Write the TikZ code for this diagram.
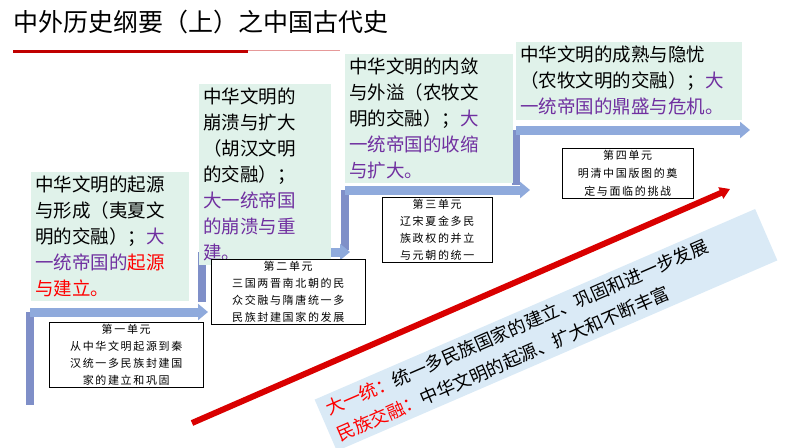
\documentclass[tikz,border=0pt]{standalone}
\usepackage{fontspec}
\setmainfont{Noto Sans CJK SC}
\usetikzlibrary{arrows.meta}
\definecolor{stagegreen}{RGB}{224,242,234}
\definecolor{stepblue}{RGB}{143,170,220}
\definecolor{postblue}{RGB}{127,143,200}
\definecolor{empire}{RGB}{112,48,160}
\definecolor{bandblue}{RGB}{218,234,246}
\definecolor{titlered}{RGB}{192,0,0}
\tikzstyle{stage} = [
        anchor=north west,
        fill=stagegreen,
        align=left,
        inner sep=4pt,
        font=\fontsize{18.5}{26}\selectfont
    ]
\tikzstyle{unit} = [
        anchor=north west,
        draw=black,
        fill=white,
        align=center,
        inner sep=2pt,
        font=\fontsize{11}{17}\selectfont\addfontfeature{LetterSpace=15}
    ]
\tikzstyle{post} = [fill=postblue]
\tikzstyle{stair} = [line width=9pt,stepblue,-{Triangle[length=10pt,width=16pt]}]
\tikzstyle{arrow} = [line width=6pt,red!85!black,-{Triangle[length=10pt,width=12pt]}]

\begin{document}
\begin{tikzpicture}[x=1pt,y=-1pt]
    \useasboundingbox (0,0) rectangle (794,447);
    % title
    \node (title) [anchor=west,font=\fontsize{25}{28}\selectfont] at (10,22)
        {中外历史纲要（上）之中国古代史};
    \draw [titlered,line width=3pt] (13,51) -- (248,51);
    \draw [titlered!40,line width=0.8pt] (248,50) -- (340,50);

    % staircase
    \fill [post] (26,312) rectangle (34,405);
    \fill [post] (198,252) rectangle (206,302);
    \fill [post] (341,190) rectangle (349,250);
    \fill [post] (512,130) rectangle (520,185);
    \draw [stair] (30,312) -- (208,312);
    \draw [stair] (202,252) -- (350,252);
    \draw [stair] (345,190) -- (530,190);
    \draw [stair] (516,130) -- (750,130);

    % stages
    \node (stage1) [stage,text width=150pt] at (31,172)
        {中华文明的起源\\与形成（夷夏文\\明的交融）；\textcolor{empire}{大}\\\textcolor{empire}{一统帝国的}\textcolor{red}{起源}\\\textcolor{red}{与建立。}};
    \node (stage2) [stage,text width=124pt] at (199,84)
        {中华文明的\\崩溃与扩大\\（胡汉文明\\的交融）；\\\textcolor{empire}{大一统帝国}\\\textcolor{empire}{的崩溃与重}\\\textcolor{empire}{建。}};
    \node (stage3) [stage,text width=160pt] at (345,54)
        {中华文明的内敛\\与外溢（农牧文\\明的交融）；\textcolor{empire}{大}\\\textcolor{empire}{一统帝国的收缩}\\\textcolor{empire}{与扩大。}};
    \node (stage4) [stage,text width=218pt] at (516,42)
        {中华文明的成熟与隐忧\\（农牧文明的交融）；\textcolor{empire}{大}\\\textcolor{empire}{一统帝国的鼎盛与危机。}};

    % units
    \node (unit1) [unit,text width=150pt] at (49,322)
        {第一单元\\从中华文明起源到秦\\汉统一多民族封建国\\家的建立和巩固};
    \node (unit2) [unit,text width=150pt] at (211,259)
        {第二单元\\三国两晋南北朝的民\\众交融与隋唐统一多\\民族封建国家的发展};
    \node (unit3) [unit,text width=106pt] at (382,197)
        {第三单元\\辽宋夏金多民\\族政权的并立\\与元朝的统一};
    \node (unit4) [unit,text width=127pt,font=\fontsize{11}{18}\selectfont\addfontfeature{LetterSpace=15}] at (562,148)
        {第四单元\\明清中国版图的奠\\定与面临的挑战};

    % trend
    \coordinate (start) at (192,423);
    \coordinate (end) at (730,189);
    \node (band) [fill=bandblue,rotate=23.4,minimum width=480pt,minimum height=56pt,
        align=left,text width=465pt,inner sep=4pt,font=\fontsize{18}{28}\selectfont] at (546,330)
        {\textcolor{red}{大一统：}统一多民族国家的建立、巩固和进一步发展\\\textcolor{red}{民族交融：}中华文明的起源、扩大和不断丰富};
    \draw [arrow] (start) -- (end);
\end{tikzpicture}
\end{document}
